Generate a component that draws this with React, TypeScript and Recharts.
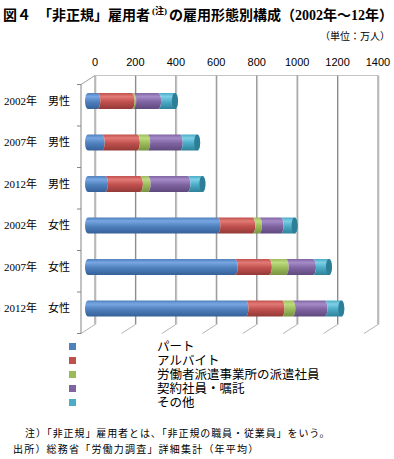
import { BarChart, Bar, XAxis, YAxis, CartesianGrid, Legend } from 'recharts';

const categories = [
  '2002年　男性',
  '2007年　男性',
  '2012年　男性',
  '2002年　女性',
  '2007年　女性',
  '2012年　女性',
];
const part = [46, 68, 84, 640, 726, 779];
const arubaito = [170, 174, 173, 173, 169, 179];
const haken = [8, 51, 38, 33, 83, 53];
const keiyaku = [123, 161, 197, 107, 135, 159];
const sonota = [83, 86, 74, 69, 79, 83];
const xTicks = [0, 200, 400, 600, 800, 1000, 1200, 1400];

const SERIES = [
  { key: 'part', name: 'パート', color: '#4f81bd', light: '#78a6e2', dark: '#36609a', cap: '#3f6ea8' },
  { key: 'arubaito', name: 'アルバイト', color: '#c0504d', light: '#e27a76', dark: '#933a38', cap: '#a8403e' },
  { key: 'haken', name: '労働者派遣事業所の派遣社員', color: '#9bbb59', light: '#bedc80', dark: '#789441', cap: '#86a34a' },
  { key: 'keiyaku', name: '契約社員・嘱託', color: '#8064a2', light: '#a68bc9', dark: '#5e497c', cap: '#6a5390' },
  { key: 'sonota', name: 'その他', color: '#4bacc6', light: '#7dd0e6', dark: '#2f8199', cap: '#2c7f96' },
];

const data = categories.map((c, i) => ({
  name: c,
  part: part[i],
  arubaito: arubaito[i],
  haken: haken[i],
  keiyaku: keiyaku[i],
  sonota: sonota[i],
}));

// 3D depth offset (half of the wall depth)
const DX = 7;
const DY = 4.5;

const makeShape = (si: number) => (props: any) => {
  const { x, y, width, height } = props;
  if (!width || width <= 0) return <g />;
  const rx = 3;
  const ry = height / 2;
  const first = si === 0;
  const last = si === SERIES.length - 1;
  const d = `M ${x},${y} L ${x + width},${y} A ${rx} ${ry} 0 0 1 ${x + width},${y + height} L ${x},${y + height} A ${rx} ${ry} 0 0 ${first ? 1 : 0} ${x},${y} Z`;
  return (
    <g>
      <path d={d} fill={`url(#cyl-${SERIES[si].key})`} />
      {last && (
        <ellipse cx={x + width} cy={y + ry} rx={rx} ry={ry} fill={SERIES[si].cap} />
      )}
    </g>
  );
};

const gridLine = (props: any) => {
  const { x1, y1, y2, index } = props;
  const x = x1;
  const w = props.width || 283;
  return (
    <g key={`g-${x}-${index}`}>
      <line x1={x + DX + 1} y1={y1 - DY} x2={x + DX + 1} y2={y2 - DY} stroke="#d6d6d6" />
      <line x1={x + DX} y1={y1 - DY} x2={x + DX} y2={y2 - DY} stroke="#858585" />
      <line x1={x - DX} y1={y2 + DY} x2={x + DX} y2={y2 - DY} stroke="#b4b4b4" />
      {index === 0 && (
        <g>
          <line x1={x + DX} y1={y1 - DY} x2={x + DX + w} y2={y1 - DY} stroke="#c4c4c4" />
          <line x1={x - DX} y1={y1 + DY} x2={x - DX} y2={y2 + DY} stroke="#858585" />
          <line x1={x - DX} y1={y1 + DY} x2={x + DX} y2={y1 - DY} stroke="#a0a0a0" />
        </g>
      )}
    </g>
  );
};

const XTick = (props: any) => {
  const { x, y, payload } = props;
  return (
    <text
      x={x + DX}
      y={y - 18}
      dy="0.35em"
      textAnchor="middle"
      fontSize={11}
      fontFamily="'Liberation Sans', Arial, sans-serif"
      fill="#000"
    >
      {payload.value}
    </text>
  );
};

const BAND = 249 / categories.length;

const YTick = (props: any) => {
  const { x, y, payload, index } = props;
  const ax = x - DX;
  const top = y - BAND / 2 + DY;
  return (
    <g>
      <line x1={ax - 4} y1={top} x2={ax} y2={top} stroke="#858585" />
      {index === categories.length - 1 && (
        <line x1={ax - 4} y1={top + BAND} x2={ax} y2={top + BAND} stroke="#858585" />
      )}
      <text
        x={x - 18}
        y={y}
        dy="0.35em"
        textAnchor="end"
        fontSize={11}
        fontFamily="'Liberation Serif', 'Noto Sans CJK JP', serif"
        fill="#000"
      >
        {payload.value}
      </text>
    </g>
  );
};

const LegendContent = () => (
  <div style={{ position: 'relative', width: 394, height: 0 }}>
    {SERIES.map((s, i) => (
      <div key={s.key}>
        <div
          style={{
            position: 'absolute',
            left: 69,
            top: i * 13.9 + 1,
            width: 7,
            height: 7,
            background: s.color,
          }}
        />
        <div
          style={{
            position: 'absolute',
            left: 157,
            top: i * 13.9 - 3,
            fontSize: 12.5,
            lineHeight: '13px',
            fontFamily: "'Noto Sans CJK JP', sans-serif",
            color: '#000',
            whiteSpace: 'nowrap',
          }}
        >
          {s.name}
        </div>
      </div>
    ))}
  </div>
);

export default function App() {
  return (
    <div
      style={{
        position: 'absolute',
        left: 0,
        top: 0,
        width: 394,
        height: 459,
        background: '#fff',
        fontFamily: "'Noto Sans CJK JP', sans-serif",
      }}
    >
      <div
        style={{
          position: 'absolute',
          left: 3,
          top: 2,
          fontSize: 14,
          fontWeight: 'bold',
          whiteSpace: 'nowrap',
          lineHeight: '18px',
          fontFamily: "'Liberation Serif', 'Noto Sans CJK JP', serif",
        }}
      >
        図４　「非正規」雇用者
        <span style={{ fontSize: 9, verticalAlign: 'super', margin: '0 2px' }}>(注)</span>
        の雇用形態別構成（2002年～12年）
      </div>
      <div
        style={{
          position: 'absolute',
          right: 4,
          top: 29,
          fontSize: 10,
          whiteSpace: 'nowrap',
          lineHeight: '14px',
        }}
      >
        （単位：万人）
      </div>
      <div style={{ position: 'absolute', left: 0, top: 0 }}>
        <BarChart
          width={394}
          height={340}
          data={data}
          layout="vertical"
          margin={{ top: 60, right: 23, bottom: 11, left: 0 }}
          barSize={16}
        >
          <defs>
            {SERIES.map((s) => (
              <linearGradient key={s.key} id={`cyl-${s.key}`} x1="0" y1="0" x2="0" y2="1">
                <stop offset="0%" stopColor={s.color} />
                <stop offset="22%" stopColor={s.light} />
                <stop offset="55%" stopColor={s.color} />
                <stop offset="100%" stopColor={s.dark} />
              </linearGradient>
            ))}
          </defs>
          <CartesianGrid vertical={gridLine} horizontal={false} />
          <XAxis
            type="number"
            orientation="top"
            domain={[0, 1400]}
            ticks={xTicks}
            height={20}
            axisLine={false}
            tickLine={false}
            tickSize={0}
            tickMargin={0}
            tick={<XTick />}
            interval={0}
          />
          <YAxis
            type="category"
            dataKey="name"
            width={88}
            axisLine={false}
            tickLine={false}
            tickSize={0}
            tickMargin={0}
            tick={<YTick />}
            interval={0}
          />
          <Legend
            verticalAlign="bottom"
            align="left"
            content={<LegendContent />}
            wrapperStyle={{ position: 'absolute', left: 0, top: 342, width: 394, height: 0, overflow: 'visible' }}
          />
          {SERIES.map((s, i) => (
            <Bar
              key={s.key}
              dataKey={s.key}
              name={s.name}
              stackId="a"
              fill={s.color}
              shape={makeShape(i)}
              isAnimationActive={false}
            />
          ))}
        </BarChart>
      </div>
      <div
        style={{
          position: 'absolute',
          left: 25,
          top: 426,
          fontSize: 10,
          letterSpacing: 0.9,
          whiteSpace: 'nowrap',
          lineHeight: '14px',
        }}
      >
        注）「非正規」雇用者とは、「非正規の職員・従業員」をいう。
      </div>
      <div
        style={{
          position: 'absolute',
          left: 13,
          top: 442,
          fontSize: 10,
          letterSpacing: 1.2,
          whiteSpace: 'nowrap',
          lineHeight: '14px',
        }}
      >
        出所）総務省「労働力調査」詳細集計（年平均）
      </div>
    </div>
  );
}
